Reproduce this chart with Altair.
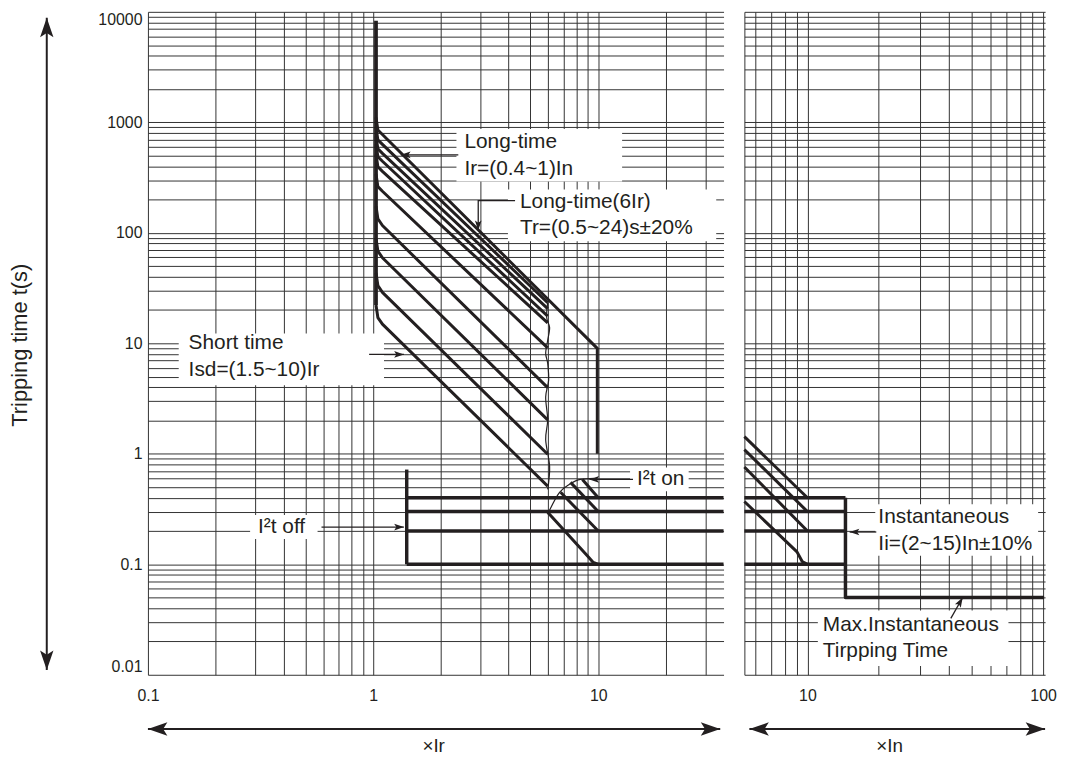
import altair as alt
import pandas as pd

FONT = "Liberation Sans"
INK = "#231f20"
GRID = "#333333"

# ---------------- scales / tick labels ----------------
T_DOMAIN = [0.01, 10000]
IR_DOMAIN = [0.1, 36]
IN_DOMAIN = [5.4, 102]

y_label_values = [0.01, 0.1, 1, 10, 100, 1000, 10000]
y_label_text = ["0.01", "0.1", "1", "10", "100", "1000", "10000"]
ir_label_values = [0.1, 1, 10]
ir_label_text = ["0.1", "1", "10"]
in_label_values = [10, 100]
in_label_text = ["10", "100"]

y_grid = [round(m * 10.0 ** e, 6) for e in range(-2, 4) for m in range(1, 10)] + [10000]
ir_grid = [round(m * 10.0 ** e, 6) for e in range(-1, 1) for m in range(1, 10)] + [10, 20, 30]
in_grid = [6, 7, 8, 9] + [10 * m for m in range(1, 11)]

# ---------------- left panel (x Ir) curves ----------------
lt_pickup_x = [1.03, 1.03]
lt_pickup_t = [8300, 22.2]

lt_curve_x = [1.03, 1.05, 1.10, 5.96]
lt_curves_t = [
    [22.2, 17.1, 14.9, 0.51],
    [43.3, 33.3, 28.9, 0.99],
    [89, 68.4, 59.5, 2.03],
    [174, 134, 116.5, 3.97],
    [341, 262, 238, 9.1],
    [515, 396, 360, 15.3],
    [634, 488, 444, 17.6],
    [748, 575, 523, 20.6],
    [901, 693, 631, 23.3],
]
envelope_x = [1.03, 1.05, 1.10, 9.9, 9.9]
envelope_t = [1109, 853, 776, 9.0, 1.0]

cutoff_x = [5.96, 5.90, 6.08, 5.96, 5.84, 5.96, 6.02, 5.84, 5.96, 5.84, 6.08, 5.96]
cutoff_t = [23.3, 17.1, 13.9, 10.6, 8.12, 6.60, 4.64, 3.27, 2.03, 1.34, 0.767, 0.477]

i2t_arc_x = [5.96, 6.73, 7.45, 8.33, 9.60]
i2t_arc_t = [0.284, 0.448, 0.529, 0.586, 0.598]

i2t_off_x = [1.41, 1.41]
i2t_off_t = [0.72, 0.1]

st_levels = [0.4, 0.3, 0.2, 0.1]
st_left_x = [1.41, 36]
st_right_x = [5.4, 14.5]

st_diag_left = [
    ([8.50, 10.0], [0.586, 0.40]),
    ([7.53, 10.0], [0.551, 0.30]),
    ([6.80, 10.0], [0.448, 0.20]),
    ([5.96, 8.94, 9.5, 10.0], [0.296, 0.1193, 0.104, 0.10]),
]

# ---------------- right panel (x In) curves ----------------
inst_diag = [
    ([5.4, 10.0], [1.43, 0.40]),
    ([5.4, 10.0], [1.09, 0.30]),
    ([5.4, 10.0], [0.76, 0.20]),
    ([5.4, 9.03, 9.5, 10.0], [0.37, 0.1295, 0.106, 0.10]),
]
inst_step_x = [14.5, 14.5, 101]
inst_step_t = [0.4, 0.05, 0.05]

# ---------------- annotations ----------------
left_boxes = [  # x, x2, t, t2
    (2.345, 12.76, 871, 290.8),
    (3.97, 33.4, 246.7, 84.0),
    (0.137, 1.118, 12.27, 4.18),
    (0.2843, 0.5667, 0.2786, 0.1695),
    (13.84, 25.2, 0.751, 0.4574),
]
right_boxes = [
    (19.4, 95.3, 0.3497, 0.1193),
    (11.07, 71.3, 0.0382, 0.0120),
]
left_texts = [
    ("Long-time", 2.543, 665),
    ("Ir=(0.4~1)In", 2.543, 380),
    ("Long-time(6Ir)", 4.49, 188.5),
    ("Tr=(0.5~24)s±20%", 4.49, 110),
    ("Short time", 0.1516, 9.98),
    ("Isd=(1.5~10)Ir", 0.1516, 5.71),
    ("I²t off", 0.3083, 0.2173),
    ("I²t on", 14.85, 0.5864),
]
right_texts = [
    ("Instantaneous", 20.0, 0.2673),
    ("Ii=(2~15)In±10%", 20.0, 0.1528),
    ("Max.Instantaneous", 11.62, 0.0280),
    ("Tirpping Time", 11.62, 0.01637),
]
left_arrows = [  # shaft xs, shaft ts, head angle
    ([2.39, 1.328], [508, 508], 270),
    ([4.27, 2.93, 2.93], [196, 196, 105.5], 180),
    ([0.960, 1.37], [7.94, 7.94], 90),
    ([0.590, 1.37], [0.2173, 0.2173], 90),
    ([14.26, 9.13], [0.5864, 0.5864], 270),
]
right_arrows = [
    ([19.6, 15.1], [0.196, 0.196], 270),
    ([40.6, 45.6], [0.0324, 0.05], 30),
]

# axis decorations (double arrows and titles, outside the plot area)
y_arrow_x = 0.03554
y_arrow_t = [8834, 0.01104]
x_arrow_t = 0.00323
ir_arrow_x = [0.1, 34.8]
in_arrow_x = [5.67, 102]
y_title = ("Tripping time t(s)", 0.027, 9.6)
ir_title = ("×Ir", 1.857, 0.00227)
in_title = ("×In", 22.3, 0.00227)

ARROW = "M0,0L0.55,1.6L0,1.25L-0.55,1.6Z"
SMALL = 150
BIG = 600


def label_expr(vals, texts):
    parts = " : ".join(f"datum.value == {v} ? '{s}'" for v, s in zip(vals, texts))
    return parts + " : ''"


def label_size(vals, size):
    # only labelled ticks get a font size; the unlabelled grid ticks take no room
    test = " || ".join(f"datum.value == {v}" for v in vals)
    return {"condition": {"test": test, "value": size}, "value": 0}


def add_line(rows, name, xs, ts, w):
    for i, (x, t) in enumerate(zip(xs, ts)):
        rows.append(dict(id=name, i=i, x=x, t=t, w=w))


def panel(xdomain, xgrid, xvals, xtexts, width, thick, smooth, arcs, boxes, texts,
          arrows, heads, outer_texts, show_y_labels):
    xs = alt.Scale(type="log", domain=xdomain, nice=False)
    ys = alt.Scale(type="log", domain=T_DOMAIN, nice=False)
    xaxis = alt.Axis(values=xgrid, labelExpr=label_expr(xvals, xtexts), grid=True,
                     gridColor=GRID, gridWidth=1, ticks=False, domain=False,
                     title=None, labelFlush=False, labelPadding=13,
                     labelFontSize=label_size(xvals, 16),
                     labelFont=FONT, labelColor=INK, labelOverlap=False)
    if show_y_labels:
        yaxis = alt.Axis(values=y_grid, labelExpr=label_expr(y_label_values, y_label_text),
                         grid=True, gridColor=GRID, gridWidth=1, ticks=False, domain=False,
                         title=None, labelFlush=True, labelPadding=6,
                         labelFontSize=label_size(y_label_values, 16),
                         labelFont=FONT, labelColor=INK, labelOverlap=False)
    else:
        yaxis = alt.Axis(values=y_grid, grid=True, gridColor=GRID, gridWidth=1, ticks=False,
                         labels=False, domain=True, domainColor=GRID, domainWidth=1, title=None)

    X = lambda: alt.X("x:Q", scale=xs, axis=xaxis)
    Y = lambda: alt.Y("t:Q", scale=ys, axis=yaxis)

    bdf = pd.DataFrame(boxes, columns=["x", "x2", "t", "t2"])
    box_layer = alt.Chart(bdf).mark_rect(fill="white", stroke=None).encode(
        x=X(), x2="x2:Q", y=Y(), y2="t2:Q")

    def enc_line():
        return dict(x=X(), y=Y(), detail="id:N", order="i:Q",
                    strokeWidth=alt.StrokeWidth("w:Q", scale=None, legend=None))

    layers = [box_layer]
    layers.append(alt.Chart(pd.DataFrame(thick)).mark_line(color=INK, strokeJoin="round")
                  .encode(**enc_line()))
    if smooth:
        layers.append(alt.Chart(pd.DataFrame(smooth)).mark_line(color=INK, interpolate="cardinal")
                      .encode(**enc_line()))
    if arcs:
        layers.append(alt.Chart(pd.DataFrame(arcs)).mark_line(color=INK, interpolate="monotone")
                      .encode(**enc_line()))
    layers.append(alt.Chart(pd.DataFrame(arrows)).mark_line(color=INK).encode(**enc_line()))

    hdf = pd.DataFrame(heads, columns=["x", "t", "a", "s"])
    layers.append(alt.Chart(hdf).mark_point(shape=ARROW, filled=True, opacity=1, color=INK,
                                            strokeWidth=0).encode(
        x=X(), y=Y(), angle=alt.Angle("a:Q", scale=None),
        size=alt.Size("s:Q", scale=None, legend=None)))

    txdf = pd.DataFrame(texts, columns=["label", "x", "t"])
    layers.append(alt.Chart(txdf).mark_text(align="left", baseline="middle", font=FONT,
                                            fontSize=21, color=INK).encode(
        x=X(), y=Y(), text="label:N"))

    for label, x, t, ang, fs in outer_texts:
        odf = pd.DataFrame([dict(label=label, x=x, t=t)])
        layers.append(alt.Chart(odf).mark_text(align="center", baseline="middle", font=FONT,
                                               fontSize=fs, color=INK, angle=ang).encode(
            x=X(), y=Y(), text="label:N"))

    return alt.layer(*layers).properties(width=width, height=668)


# ---- assemble left panel data ----
L_thick, L_smooth, L_arcs, L_arrows, L_heads = [], [], [], [], []
add_line(L_thick, "pickup", lt_pickup_x, lt_pickup_t, 3.8)
for k, ts in enumerate(lt_curves_t):
    add_line(L_thick, f"lt{k}", lt_curve_x, ts, 3)
add_line(L_thick, "env", envelope_x, envelope_t, 3)
add_line(L_thick, "i2toff", i2t_off_x, i2t_off_t, 3.5)
for lv in st_levels:
    add_line(L_thick, f"st{lv}", st_left_x, [lv, lv], 3.5)
for k, (xs_, ts_) in enumerate(st_diag_left):
    add_line(L_thick, f"d{k}", xs_, ts_, 3)
add_line(L_smooth, "cutoff", cutoff_x, cutoff_t, 1.2)
add_line(L_arcs, "arc", i2t_arc_x, i2t_arc_t, 1.2)
for k, (xs_, ts_, ang) in enumerate(left_arrows):
    add_line(L_arrows, f"a{k}", xs_, ts_, 1.3)
    L_heads.append((xs_[-1], ts_[-1], ang, SMALL))
add_line(L_arrows, "yarrow", [y_arrow_x, y_arrow_x], y_arrow_t, 2)
L_heads.append((y_arrow_x, y_arrow_t[0], 0, BIG))
L_heads.append((y_arrow_x, y_arrow_t[1], 180, BIG))
add_line(L_arrows, "xarrow", ir_arrow_x, [x_arrow_t, x_arrow_t], 2)
L_heads.append((ir_arrow_x[0], x_arrow_t, 270, BIG))
L_heads.append((ir_arrow_x[1], x_arrow_t, 90, BIG))

# ---- assemble right panel data ----
R_thick, R_arrows, R_heads = [], [], []
for lv in st_levels:
    add_line(R_thick, f"st{lv}", st_right_x, [lv, lv], 3.5)
for k, (xs_, ts_) in enumerate(inst_diag):
    add_line(R_thick, f"d{k}", xs_, ts_, 3)
add_line(R_thick, "step", inst_step_x, inst_step_t, 3.5)
for k, (xs_, ts_, ang) in enumerate(right_arrows):
    add_line(R_arrows, f"a{k}", xs_, ts_, 1.3)
    R_heads.append((xs_[-1], ts_[-1], ang, SMALL))
add_line(R_arrows, "xarrow", in_arrow_x, [x_arrow_t, x_arrow_t], 2)
R_heads.append((in_arrow_x[0], x_arrow_t, 270, BIG))
R_heads.append((in_arrow_x[1], x_arrow_t, 90, BIG))

left = panel(IR_DOMAIN, ir_grid, ir_label_values, ir_label_text, 580,
             L_thick, L_smooth, L_arcs, left_boxes, left_texts, L_arrows, L_heads,
             [(y_title[0], y_title[1], y_title[2], 270, 22),
              (ir_title[0], ir_title[1], ir_title[2], 0, 19)], True)
right = panel(IN_DOMAIN, in_grid, in_label_values, in_label_text, 303,
              R_thick, None, None, right_boxes, right_texts, R_arrows, R_heads,
              [(in_title[0], in_title[1], in_title[2], 0, 19)], False)

chart = alt.hconcat(left, right, spacing=17).configure_view(stroke=None).properties(
    padding={"left": 0, "top": 1, "right": 0, "bottom": 0})

chart.save("out.html", embed_options={"renderer": "svg", "actions": False})
